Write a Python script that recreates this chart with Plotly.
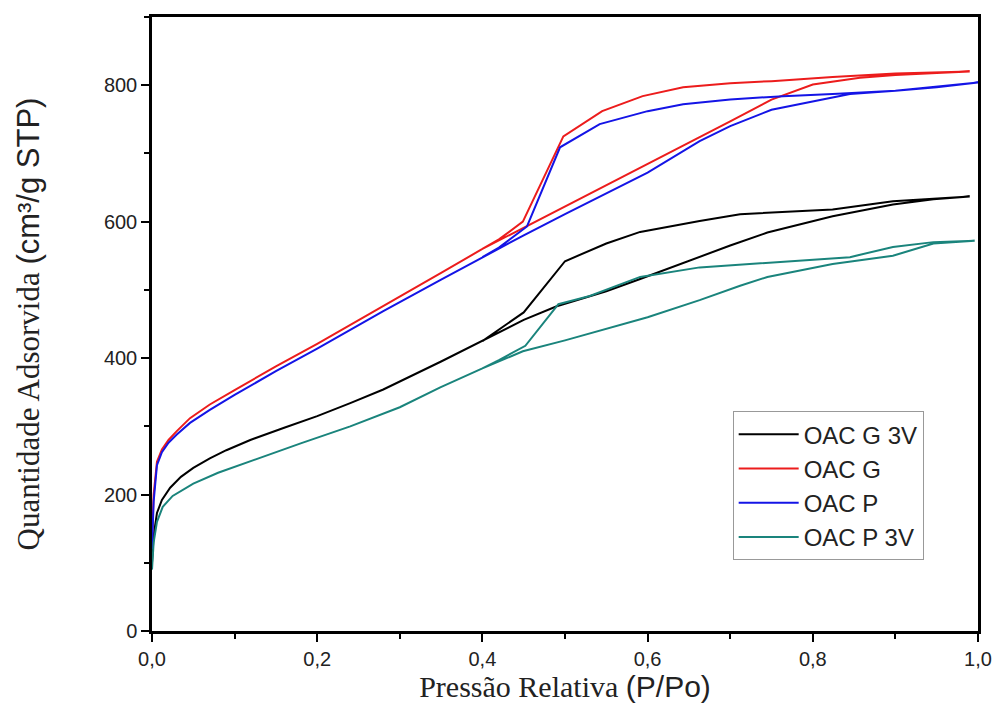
import plotly.graph_objects as go

# OAC G 3V (black): adsorption then desorption
g3v_x = [0, 0.002, 0.006, 0.012, 0.022, 0.035, 0.05, 0.07, 0.09, 0.119, 0.16, 0.2, 0.24, 0.28, 0.35, 0.4, 0.45, 0.49, 0.55, 0.591, 0.663, 0.7, 0.745, 0.824, 0.897, 0.946, 0.99,
         0.897, 0.824, 0.712, 0.663, 0.591, 0.55, 0.5, 0.45, 0.42, 0.4]
g3v_y = [100, 140, 173, 192, 210, 226, 239, 253, 265, 280, 298, 315, 334, 354, 395, 425, 456, 476, 498, 516, 549, 565, 584, 608, 625, 633, 637,
         630, 618, 611, 601, 585, 568, 542, 467, 441, 425]

# OAC G (red)
g_x = [0, 0.002, 0.006, 0.012, 0.02, 0.03, 0.046, 0.07, 0.1, 0.15, 0.2, 0.28, 0.35, 0.4, 0.45, 0.5, 0.55, 0.6, 0.65, 0.7, 0.75, 0.8, 0.857, 0.9, 0.95, 0.99,
       0.9, 0.824, 0.75, 0.7, 0.643, 0.594, 0.545, 0.498, 0.449, 0.42, 0.4]
g_y = [130, 200, 248, 266, 280, 293, 312, 332, 353, 388, 421, 476, 525, 560, 591, 623, 654, 685, 716, 747, 779, 801, 811, 815, 818, 820,
       817, 812, 806, 803, 797, 784, 762, 725, 600, 574, 560]

# OAC P (blue)
p_x = [0, 0.002, 0.006, 0.012, 0.02, 0.03, 0.046, 0.07, 0.1, 0.15, 0.2, 0.28, 0.35, 0.4, 0.45, 0.5, 0.55, 0.6, 0.663, 0.7, 0.75, 0.797, 0.845, 0.9, 0.95, 1.0,
       0.946, 0.9, 0.824, 0.764, 0.7, 0.643, 0.6, 0.542, 0.494, 0.454, 0.42, 0.4]
p_y = [120, 190, 243, 262, 276, 288, 305, 324, 346, 381, 414, 469, 515, 548, 580, 611, 642, 672, 718, 740, 764, 775, 787, 792, 797, 804,
       797, 792, 787, 784, 779, 772, 762, 743, 709, 593, 562, 548]

# OAC P 3V (teal)
p3v_x = [0, 0.002, 0.006, 0.013, 0.025, 0.05, 0.08, 0.119, 0.18, 0.24, 0.3, 0.349, 0.4, 0.449, 0.5, 0.6, 0.663, 0.712, 0.745, 0.824, 0.897, 0.946, 0.996,
         0.946, 0.897, 0.845, 0.745, 0.712, 0.663, 0.591, 0.53, 0.492, 0.452, 0.42, 0.4]
p3v_y = [90, 130, 160, 182, 198, 216, 232, 249, 275, 300, 328, 357, 385, 410, 426, 460, 485, 506, 519, 538, 550, 568, 572,
         570, 563, 548, 540, 538, 533, 519, 491, 479, 418, 397, 385]

series = [
    ("OAC G 3V", g3v_x, g3v_y, "#000000"),
    ("OAC G", g_x, g_y, "#ec1c1c"),
    ("OAC P", p_x, p_y, "#1414e6"),
    ("OAC P 3V", p3v_x, p3v_y, "#1a847c"),
]

fig = go.Figure()
for name, xs, ys, col in series:
    fig.add_trace(go.Scatter(x=xs, y=ys, mode="lines", name=name,
                             line=dict(color=col, width=2)))

axis_common = dict(
    showline=True, linewidth=2.5, linecolor="black", mirror=True,
    ticks="outside", tickwidth=2, ticklen=8, tickcolor="black",
    showgrid=False, zeroline=False,
    tickfont=dict(family="Liberation Sans, Arial", size=20, color="#222"),
)

serif = "Liberation Serif, Times New Roman"
sans = "Liberation Sans, Arial"

fig.update_xaxes(range=[0, 1.0], dtick=0.2, tick0=0, tickformat=".1f",
                 minor=dict(ticks="outside", ticklen=5, tickwidth=2, dtick=0.1, tickcolor="black"),
                 title=dict(text="Pressão Relativa <span style='font-family:Liberation Sans, Arial'>(P/Po)</span>", standoff=6,
                            font=dict(family=serif, size=30, color="#222")),
                 **axis_common)
fig.update_yaxes(range=[0, 900], tick0=0,
                 tickvals=[0, 200, 400, 600, 800],
                 minor=dict(ticks="outside", ticklen=5, tickwidth=2, tickvals=[100, 300, 500, 700, 900], tickcolor="black"),
                 title=dict(text="Quantidade Adsorvida <span style='font-family:Liberation Sans, Arial'>(cm³/g STP)</span>", standoff=56,
                            font=dict(family=serif, size=31, color="#222")),
                 **axis_common)

fig.update_layout(
    width=997, height=706,
    margin=dict(l=152, r=19, t=17, b=75, autoexpand=False),
    plot_bgcolor="white", paper_bgcolor="white",
    separators=",.",
    showlegend=True,
    legend=dict(x=0.703, y=0.358, xanchor="left", yanchor="top",
                bordercolor="#999", borderwidth=1, bgcolor="white",
                font=dict(family=sans, size=24, color="#222"),
                tracegroupgap=0, itemwidth=60),
)

fig.write_html("out.html",
               config={"displayModeBar": False},
               post_script="document.body.style.margin='0';document.body.style.overflow='hidden';")
